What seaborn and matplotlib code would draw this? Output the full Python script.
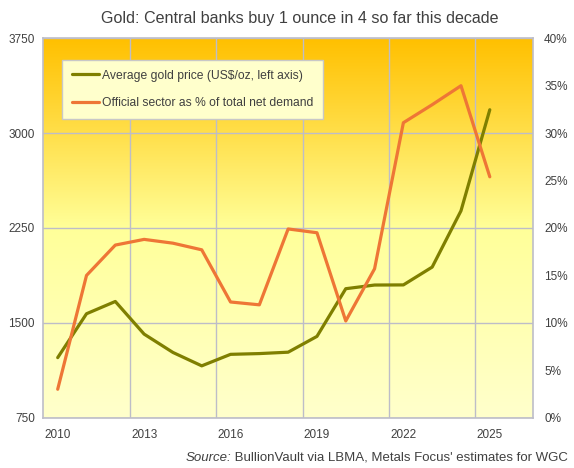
import numpy as np
import pandas as pd
import matplotlib
matplotlib.use("Agg")
import matplotlib.pyplot as plt
from matplotlib.colors import LinearSegmentedColormap
from matplotlib.ticker import FixedLocator, FuncFormatter
import seaborn as sns

# ---- data ----
years = [2010, 2011, 2012, 2013, 2014, 2015, 2016, 2017, 2018, 2019,
         2020, 2021, 2022, 2023, 2024, 2025]
gold_price = [1225, 1572, 1669, 1411, 1266, 1160, 1251, 1257, 1268, 1393,
              1770, 1799, 1800, 1941, 2386, 3185]
official_pct = [3.0, 15.0, 18.2, 18.8, 18.4, 17.7, 12.2, 11.9, 19.9, 19.5,
                10.2, 15.7, 31.1, 33.0, 35.0, 25.4]
left_ticks = [750, 1500, 2250, 3000, 3750]
right_ticks = [0, 5, 10, 15, 20, 25, 30, 35, 40]
year_labels = [2010, 2013, 2016, 2019, 2022, 2025]

title = "Gold: Central banks buy 1 ounce in 4 so far this decade"
gold_label = "Average gold price (US$/oz, left axis)"
pct_label = "Official sector as % of total net demand"
source_lead = "Source:"
source_rest = " BullionVault via LBMA, Metals Focus' estimates for WGC"

df = pd.DataFrame({"year": years, "gold": gold_price, "pct": official_pct})

sns.set_theme(style="white")
plt.rcParams["font.family"] = ["Liberation Sans", "DejaVu Sans"]

GOLD_C = "#7F7F00"
ORANGE_C = "#EE7636"
GRID_C = "#BDBDC8"
TEXT_C = "#404040"

W, H = 574, 468
fig = plt.figure(figsize=(W / 100, H / 100), dpi=100)
fig.patch.set_facecolor("white")
l, r, t, b = 43.3, 533.0, 38.3, 417.7
ax = fig.add_axes([l / W, 1 - b / H, (r - l) / W, (b - t) / H])

# gradient background
cmap = LinearSegmentedColormap.from_list(
    "bg", [(0.0, "#FFFFCC"), (0.5, "#FFFF99"), (0.75, "#FFDF4A"), (1.0, "#FFC000")])
grad = np.linspace(0, 1, 256).reshape(-1, 1)
ax.imshow(grad, aspect="auto", cmap=cmap, origin="lower",
          extent=[0, 1, 0, 1], transform=ax.transAxes, zorder=-10)

sns.lineplot(data=df, x="year", y="gold", ax=ax, color=GOLD_C, lw=2.3,
             label=gold_label, legend=False)
ax.set_xlim(2009.5, 2026.5)
ax.set_ylim(750, 3750)
ax.set_xlabel("")
ax.set_ylabel("")
ax.yaxis.set_major_locator(FixedLocator(left_ticks))
ax.xaxis.set_major_locator(FixedLocator(year_labels))
ax.xaxis.set_minor_locator(FixedLocator([2012.5, 2015.5, 2018.5, 2021.5, 2024.5]))
ax.grid(False)
ax.grid(True, which="minor", axis="x", color=GRID_C, lw=1.0)
ax.grid(True, which="major", axis="y", color=GRID_C, lw=1.0)
ax.tick_params(axis="both", which="both", length=0, labelsize=8.5,
               colors=TEXT_C, pad=6)
ax.tick_params(axis="x", pad=8)
for s in ax.spines.values():
    s.set_color(GRID_C)
    s.set_linewidth(1.2)
ax.set_axisbelow(True)

ax2 = ax.twinx()
ax2.patch.set_alpha(0)
sns.lineplot(data=df, x="year", y="pct", ax=ax2, color=ORANGE_C, lw=2.3,
             label=pct_label, legend=False)
ax2.set_ylim(0, 40)
ax2.set_ylabel("")
ax2.yaxis.set_major_locator(FixedLocator(right_ticks))
ax2.yaxis.set_major_formatter(FuncFormatter(lambda v, p: f"{int(v)}%"))
ax2.tick_params(axis="y", length=0, labelsize=8.5, colors=TEXT_C, pad=8)
ax2.grid(False)
for s in ax2.spines.values():
    s.set_visible(False)

h1, l1 = ax.get_legend_handles_labels()
h2, l2 = ax2.get_legend_handles_labels()
leg = ax2.legend(h1 + h2, l1 + l2, loc="upper left",
                 bbox_to_anchor=((62 - l) / (r - l), (b - 60) / (b - t)),
                 borderaxespad=0, fontsize=8.7, handlelength=2.3,
                 handletextpad=0.2, labelspacing=1.3, borderpad=0.8,
                 fancybox=False, framealpha=1, facecolor="#FFFFCC",
                 edgecolor="#C8C8C8", labelcolor=TEXT_C)
leg.get_frame().set_linewidth(1.0)

fig.text(300 / W, 1 - 19 / H, title, ha="center", va="center",
         fontsize=11.6, color=TEXT_C)

# source line: italic lead + normal rest, right-aligned
src = fig.text(568 / W, 1 - 458 / H, source_rest, ha="right", va="center",
               fontsize=9.5, color=TEXT_C)
fig.canvas.draw()
bb = src.get_window_extent(fig.canvas.get_renderer())
fig.text(bb.x0 / W, 1 - 458 / H, source_lead, ha="right", va="center",
         fontsize=9.5, color=TEXT_C, style="italic")

fig.savefig("out.png", dpi=100)
